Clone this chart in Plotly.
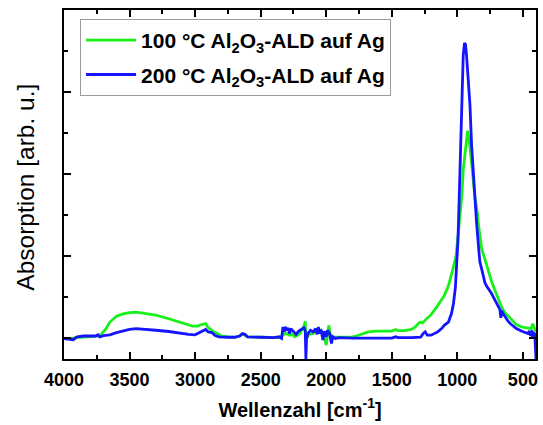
import plotly.graph_objects as go

# --- data ---
wavenumber_100C = [4000, 3950, 3900, 3850, 3800, 3750, 3727, 3700, 3680, 3650, 3600, 3550, 3500, 3450,
                   3400, 3300, 3200, 3100, 3020, 2980, 2950, 2920, 2900, 2880, 2860, 2840, 2800, 2750,
                   2700, 2660, 2640, 2620, 2600, 2500, 2400, 2350, 2330, 2300, 2280, 2260, 2240, 2200,
                   2170, 2160, 2155, 2150, 2130, 2100, 2080, 2060, 2040, 2020, 2005, 2000, 1990, 1980,
                   1970, 1950, 1920, 1850, 1800, 1770, 1720, 1680, 1620, 1550, 1500, 1470, 1450, 1400,
                   1350, 1320, 1300, 1280, 1265, 1240, 1200, 1150, 1100, 1068, 1043, 1030, 1010, 995,
                   980, 965, 955, 942, 932, 922, 915, 905, 891, 878, 866, 846, 840, 815, 790, 777, 740,
                   714, 690, 664, 640, 610, 588, 550, 512, 470, 436, 425, 415, 405, 400]
absorb_100C = [0.0, 0.0, 0.01, 0.015, 0.02, 0.02, 0.03, 0.08, 0.12, 0.20, 0.27, 0.30, 0.315, 0.32,
               0.31, 0.285, 0.24, 0.19, 0.15, 0.15, 0.17, 0.18, 0.13, 0.11, 0.08, 0.07, 0.03, 0.02,
               0.015, 0.03, 0.05, 0.04, 0.02, 0.015, 0.015, 0.01, 0.05, 0.06, 0.04, 0.05, 0.02, 0.06,
               0.15, 0.21, 0.05, 0.0, 0.05, 0.06, 0.09, 0.07, 0.10, 0.04, -0.05, -0.08, 0.05, 0.16,
               0.06, 0.02, 0.015, 0.015, 0.02, 0.03, 0.06, 0.08, 0.09, 0.09, 0.09, 0.11, 0.095, 0.095,
               0.11, 0.14, 0.18, 0.20, 0.19, 0.23, 0.29, 0.40, 0.52, 0.64, 0.78, 0.87, 1.0, 1.25,
               1.45, 1.75, 2.05, 2.25, 2.4, 2.53, 2.45, 2.35, 2.13, 1.93, 1.72, 1.52, 1.4, 1.1, 0.97,
               0.88, 0.70, 0.59, 0.49, 0.39, 0.32, 0.27, 0.23, 0.17, 0.14, 0.125, 0.12, 0.18, 0.14,
               0.10, 0.08]

wavenumber_200C = [4000, 3960, 3930, 3900, 3850, 3800, 3760, 3740, 3727, 3700, 3650, 3600, 3550, 3500,
                   3450, 3400, 3300, 3200, 3120, 3050, 3000, 2970, 2940, 2920, 2900, 2870, 2850, 2820,
                   2750, 2700, 2660, 2640, 2620, 2600, 2500, 2400, 2360, 2340, 2330, 2320, 2310, 2300,
                   2290, 2280, 2270, 2250, 2230, 2210, 2190, 2170, 2160, 2155, 2150, 2140, 2120, 2100,
                   2080, 2070, 2060, 2050, 2040, 2025, 2015, 2000, 1990, 1975, 1960, 1950, 1930, 1900,
                   1800, 1700, 1600, 1500, 1470, 1450, 1350, 1300, 1280, 1260, 1245, 1230, 1200, 1150,
                   1120, 1100, 1068, 1045, 1030, 1015, 1005, 995, 985, 975, 965, 955, 945, 938, 930,
                   916, 904, 891, 878, 866, 853, 840, 828, 815, 790, 777, 740, 714, 689, 675, 668, 665,
                   650, 613, 588, 550, 512, 480, 461, 450, 440, 430, 425, 420, 415, 410, 405, 400]
absorb_200C = [0.0, -0.01, -0.015, 0.02, 0.03, 0.03, 0.03, 0.045, 0.02, 0.035, 0.045, 0.07, 0.09, 0.11,
               0.12, 0.115, 0.10, 0.085, 0.065, 0.05, 0.045, 0.07, 0.09, 0.11, 0.08, 0.07, 0.04, 0.02,
               0.015, 0.015, 0.03, 0.06, 0.05, 0.02, 0.015, 0.01, 0.02, 0.0, 0.14, 0.08, 0.14, 0.10,
               0.13, 0.06, 0.12, 0.08, 0.05, 0.09, 0.11, 0.13, 0.09, -0.25, 0.0, 0.06, 0.10, 0.08,
               0.12, 0.05, 0.14, 0.06, 0.11, -0.02, 0.09, 0.02, 0.10, 0.06, -0.06, 0.02, 0.0, 0.01,
               0.005, 0.005, 0.005, 0.005, 0.02, 0.01, 0.01, 0.01, 0.015, 0.06, 0.08, 0.04, 0.04, 0.08,
               0.12, 0.16, 0.20, 0.30, 0.42, 0.62, 0.85, 1.2, 1.75, 2.45, 3.1, 3.45, 3.6, 3.58, 3.45,
               3.15, 2.85, 2.35, 2.0, 1.72, 1.4, 1.15, 0.93, 0.85, 0.68, 0.64, 0.55, 0.47, 0.39, 0.35,
               0.25, 0.34, 0.30, 0.21, 0.17, 0.12, 0.09, 0.07, 0.06, 0.09, 0.03, 0.10, 0.0, 0.08, 0.02,
               0.07, -0.23, -0.25]

series_names = ["100 °C Al<sub>2</sub>O<sub>3</sub>-ALD auf Ag",
                "200 °C Al<sub>2</sub>O<sub>3</sub>-ALD auf Ag"]
series_colors = ["#19f019", "#1414ff"]

x_ticks = [4000, 3500, 3000, 2500, 2000, 1500, 1000, 500]
y_title = "Absorption [arb. u.]"
x_title = "Wellenzahl [cm<sup>-1</sup>]"

FONT = "Liberation Sans, Arial, sans-serif"

fig = go.Figure()
fig.add_trace(go.Scatter(x=wavenumber_100C, y=absorb_100C, mode="lines", name=series_names[0],
                         legendgroup="a", line=dict(color=series_colors[0], width=2.8)))
fig.add_trace(go.Scatter(x=wavenumber_200C, y=absorb_200C, mode="lines", name=series_names[1],
                         legendgroup="b", line=dict(color=series_colors[1], width=2.8)))

axis_common = dict(showline=True, linecolor="black", linewidth=2, mirror="ticks",
                   ticks="inside", ticklen=7, tickwidth=2, tickcolor="black",
                   showgrid=False, zeroline=False)

fig.update_xaxes(range=[4000, 400], tickvals=x_ticks, ticklabelstandoff=3,
                 tickfont=dict(family=FONT, size=18, color="black", weight="bold"),
                 minor=dict(dtick=250, tick0=0, ticks="inside", ticklen=4, tickwidth=2, tickcolor="black"),
                 title=dict(text=x_title,
                            font=dict(family=FONT, size=20, color="black", weight="bold"), standoff=14),
                 **axis_common)
fig.update_yaxes(range=[-0.25, 4.0], tick0=0, dtick=1, showticklabels=False,
                 minor=dict(dtick=0.5, tick0=0, ticks="inside", ticklen=4, tickwidth=2, tickcolor="black"),
                 **axis_common)

fig.add_annotation(text=y_title, textangle=-90, xref="paper", yref="paper",
                   x=-0.0823, y=0.4914, xanchor="center", yanchor="middle", showarrow=False,
                   font=dict(family=FONT, size=24.5, color="black"))

fig.update_layout(
    width=543, height=425,
    margin=dict(l=64, r=5, t=10, b=66),
    paper_bgcolor="white", plot_bgcolor="white",
    showlegend=True,
    legend=dict(x=0.034, y=0.974, xanchor="left", yanchor="top",
                bgcolor="white", bordercolor="#9a9a9a", borderwidth=1,
                font=dict(family=FONT, size=21, color="black", weight="bold"),
                itemwidth=50, tracegroupgap=4),
)

fig.write_html("out.html")
